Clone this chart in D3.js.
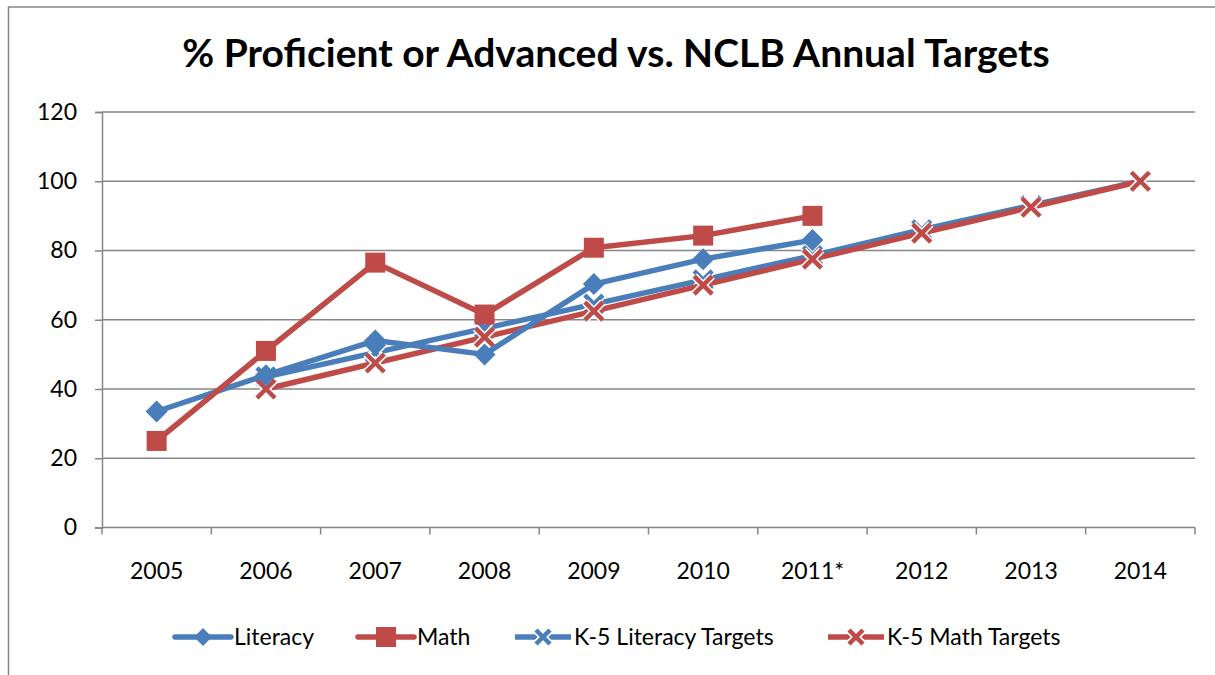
<!DOCTYPE html>
<html>
<head>
<meta charset="utf-8">
<script src="https://cdn.jsdelivr.net/npm/d3@7"></script>
<style>
  body { margin: 0; background: #fff; }
  text { font-family: Lato, "Open Sans", sans-serif; fill: #000; }
</style>
</head>
<body>
<svg id="chart" width="1215" height="675"></svg>
<script>
// data
const years = ["2005", "2006", "2007", "2008", "2009", "2010", "2011*", "2012", "2013", "2014"];
const literacy = [33.5, 44, 54, 50, 70.3, 77.5, 83, null, null, null];
const math = [25, 51, 76.5, 61.5, 80.8, 84.3, 90, null, null, null];
const litTargets = [null, 43.5, 50.5, 57.5, 64.5, 71.5, 78.5, 86, 93, 100];
const mathTargets = [null, 40, 47.5, 55, 62.5, 70, 77.5, 85, 92.5, 100];
const yTicks = [0, 20, 40, 60, 80, 100, 120];

const blue = "#4a7ebb", red = "#be4b48", gridCol = "#868686";

const svg = d3.select("#chart");

// outer chart border
svg.append("rect")
    .attr("x", 8.5).attr("y", 7)
    .attr("width", 1240).attr("height", 700)
    .attr("fill", "none").attr("stroke", gridCol).attr("stroke-width", 1.5);

svg.append("text")
    .attr("x", 616).attr("y", 67)
    .attr("text-anchor", "middle")
    .style("font-size", "39px").style("font-weight", "bold")
    .text("% Proficient or Advanced vs. NCLB Annual Targets");

const plotL = 102, plotR = 1195, plotT = 112, plotB = 527.5;
const fs = "23px";

const x = d3.scaleBand().domain(years).range([plotL, plotR]);
const y = d3.scaleLinear().domain([0, 120]).range([plotB, plotT]);

// gridlines
svg.append("g").selectAll("line")
    .data(yTicks.filter(d => d > 0))
    .enter().append("line")
    .attr("x1", plotL).attr("x2", plotR)
    .attr("y1", d => y(d)).attr("y2", d => y(d))
    .attr("stroke", gridCol).attr("stroke-width", 1.5);

// y axis
const yAxis = svg.append("g")
    .attr("transform", "translate(" + plotL + ",0)")
    .call(d3.axisLeft(y).tickValues(yTicks).tickSize(7).tickPadding(18));
yAxis.select(".domain").attr("stroke", gridCol).attr("stroke-width", 1.5);
yAxis.selectAll(".tick line").attr("stroke", gridCol).attr("stroke-width", 1.5);
yAxis.selectAll("text").style("font-size", fs).attr("fill", "#000");

// x axis with ticks at band boundaries
svg.append("line")
    .attr("x1", plotL).attr("x2", plotR)
    .attr("y1", plotB).attr("y2", plotB)
    .attr("stroke", gridCol).attr("stroke-width", 1.5);
const bounds = years.map(d => x(d)).concat([plotR]);
svg.append("g").selectAll("line")
    .data(bounds)
    .enter().append("line")
    .attr("x1", d => d).attr("x2", d => d)
    .attr("y1", plotB).attr("y2", plotB + 7)
    .attr("stroke", gridCol).attr("stroke-width", 1.5);
svg.append("g").selectAll("text")
    .data(years)
    .enter().append("text")
    .attr("x", d => x(d) + x.bandwidth() / 2)
    .attr("y", 579)
    .attr("text-anchor", "middle")
    .style("font-size", fs)
    .text(d => d);

const cx = (d, i) => x(years[i]) + x.bandwidth() / 2;
const line = d3.line()
    .defined(d => d != null)
    .x((d, i) => cx(d, i))
    .y(d => y(d));

function marker(g, type, color, px, py, s) {
    if (type === "diamond") {
        g.append("path")
            .attr("d", `M${px},${py - s}L${px + s},${py}L${px},${py + s}L${px - s},${py}Z`)
            .attr("fill", color);
    } else if (type === "square") {
        g.append("rect")
            .attr("x", px - s).attr("y", py - s)
            .attr("width", 2 * s).attr("height", 2 * s)
            .attr("fill", color);
    } else {
        // X marker with white halo
        const p = `M${px - s},${py - s}L${px + s},${py + s}M${px + s},${py - s}L${px - s},${py + s}`;
        g.append("path").attr("d", p).attr("stroke", "#fff").attr("stroke-width", 7.5).attr("fill", "none");
        g.append("path").attr("d", p).attr("stroke", color).attr("stroke-width", 4.5).attr("fill", "none");
    }
}

const series = [
    { name: "K-5 Literacy Targets", data: litTargets, color: blue, type: "x" },
    { name: "K-5 Math Targets", data: mathTargets, color: red, type: "x" },
    { name: "Literacy", data: literacy, color: blue, type: "diamond" },
    { name: "Math", data: math, color: red, type: "square" }
];

series.forEach(s => {
    const g = svg.append("g");
    g.append("path")
        .datum(s.data)
        .attr("d", line)
        .attr("fill", "none")
        .attr("stroke", s.color)
        .attr("stroke-width", 5.5)
        .attr("stroke-linejoin", "round");
    s.data.forEach((v, i) => {
        if (v == null) return;
        const size = s.type === "diamond" ? 11 : s.type === "square" ? 10 : 9;
        marker(g, s.type, s.color, cx(v, i), y(v), size);
    });
});

// legend
const legendItems = [
    { name: "Literacy", color: blue, type: "diamond", x: 175 },
    { name: "Math", color: red, type: "square", x: 358 },
    { name: "K-5 Literacy Targets", color: blue, type: "x", x: 515 },
    { name: "K-5 Math Targets", color: red, type: "x", x: 828 }
];
const ly = 637;
legendItems.forEach(d => {
    const g = svg.append("g");
    g.append("line")
        .attr("x1", d.x).attr("x2", d.x + 56)
        .attr("y1", ly).attr("y2", ly)
        .attr("stroke", d.color).attr("stroke-width", 5.5)
        .attr("stroke-linecap", d.type === "x" ? "butt" : "round");
    const size = d.type === "diamond" ? 9 : d.type === "square" ? 10 : 7;
    marker(g, d.type, d.color, d.x + 28, ly, size);
    g.append("text")
        .attr("x", d.x + 59).attr("y", ly + 8)
        .style("font-size", fs)
        .text(d.name);
});
</script>
</body>
</html>
